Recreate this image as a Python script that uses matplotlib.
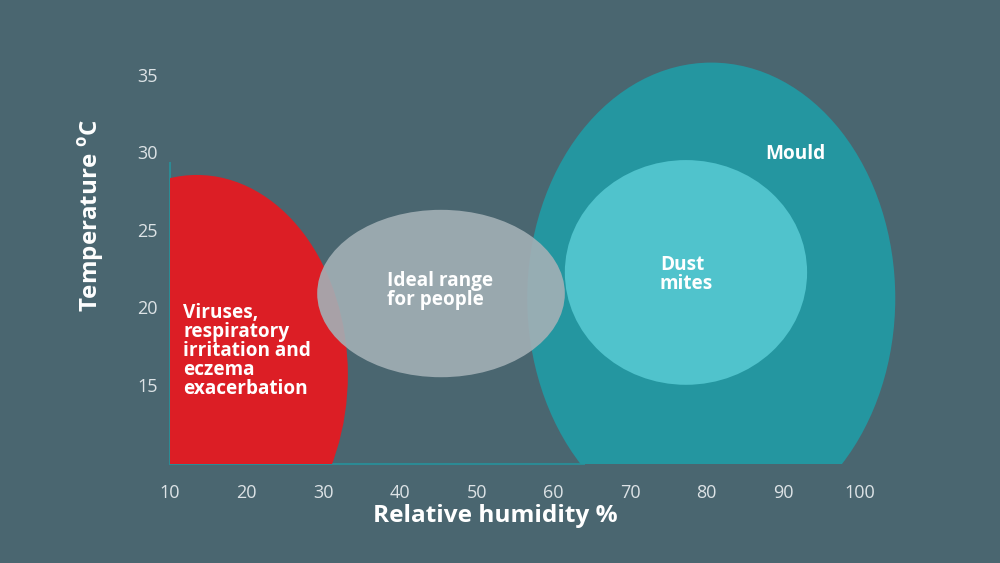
import matplotlib
matplotlib.use("Agg")
import matplotlib.pyplot as plt
from matplotlib.patches import Ellipse

plt.rcParams['font.family'] = ['Open Sans', 'DejaVu Sans']
plt.rcParams['mathtext.fontset'] = 'custom'
plt.rcParams['mathtext.rm'] = 'Open Sans'
plt.rcParams['mathtext.bf'] = 'Open Sans:bold'

# zones: centre (humidity %, temperature C), width, height
zone_names = ["Viruses,\nrespiratory\nirritation and\neczema\nexacerbation",
              "Mould", "Dust\nmites", "Ideal range\nfor people"]
zone_x = [13.5, 80.6, 77.3, 45.35]
zone_y = [15.65, 20.6, 22.26, 20.9]
zone_w = [39.4, 48.0, 31.6, 32.3]
zone_h = [25.8, 30.4, 14.5, 10.8]
zone_colors = ["#dc1e25", "#2496a0", "#50c3cc", "#a3b0b6"]
zone_alpha = [1.0, 1.0, 1.0, 0.9]

# label anchor points (left edge, vertical centre)
label_x = [11.7, 87.6, 73.9, 38.3]
label_y = [17.2, 29.9, 22.1, 21.1]

x_ticks = [10, 20, 30, 40, 50, 60, 70, 80, 90, 100]
y_ticks = [15, 20, 25, 30, 35]

bg = "#4a6670"
axis_color = "#2c8a94"
tick_color = "#dde3e6"

fig = plt.figure(figsize=(10, 5.63), dpi=100, facecolor=bg)
ax = fig.add_axes([0.17, 0.175, 0.805, 0.7744])
ax.set_facecolor(bg)
ax.set_xlim(10, 115)
ax.set_ylim(9.87, 38)

for i in range(len(zone_names)):
    e = Ellipse((zone_x[i], zone_y[i]), zone_w[i], zone_h[i],
                facecolor=zone_colors[i], edgecolor='none',
                alpha=zone_alpha[i], zorder=3 + i)
    ax.add_patch(e)
    ax.text(label_x[i], label_y[i], zone_names[i], ha='left', va='center',
            color='white', fontsize=13.7, fontweight='bold',
            linespacing=0.94, zorder=10)

for s in ['top', 'right']:
    ax.spines[s].set_visible(False)
ax.spines['left'].set_bounds(9.87, 29.3)
ax.spines['bottom'].set_bounds(10, 64)
for s in ['left', 'bottom']:
    ax.spines[s].set_color(axis_color)
    ax.spines[s].set_linewidth(1.5)

ax.set_xticks(x_ticks)
ax.set_yticks(y_ticks)
ax.tick_params(length=0, colors=tick_color, labelsize=13)
ax.tick_params(axis='x', pad=14)
ax.tick_params(axis='y', pad=9)

ax.set_xlabel("Relative humidity %", color='white', fontsize=17.6,
              fontweight='bold', va='center')
ax.set_ylabel(r"Temperature $^{\mathbf{o}}$C", color='white', fontsize=17.4,
              fontweight='bold', va='center')
ax.xaxis.set_label_coords((495 - 170) / 805, -(516 - 464.5) / 436)
ax.yaxis.set_label_coords(-(170 - 92) / 805, (464.5 - 216) / 436)

fig.savefig("out.png", dpi=100, facecolor=bg)
